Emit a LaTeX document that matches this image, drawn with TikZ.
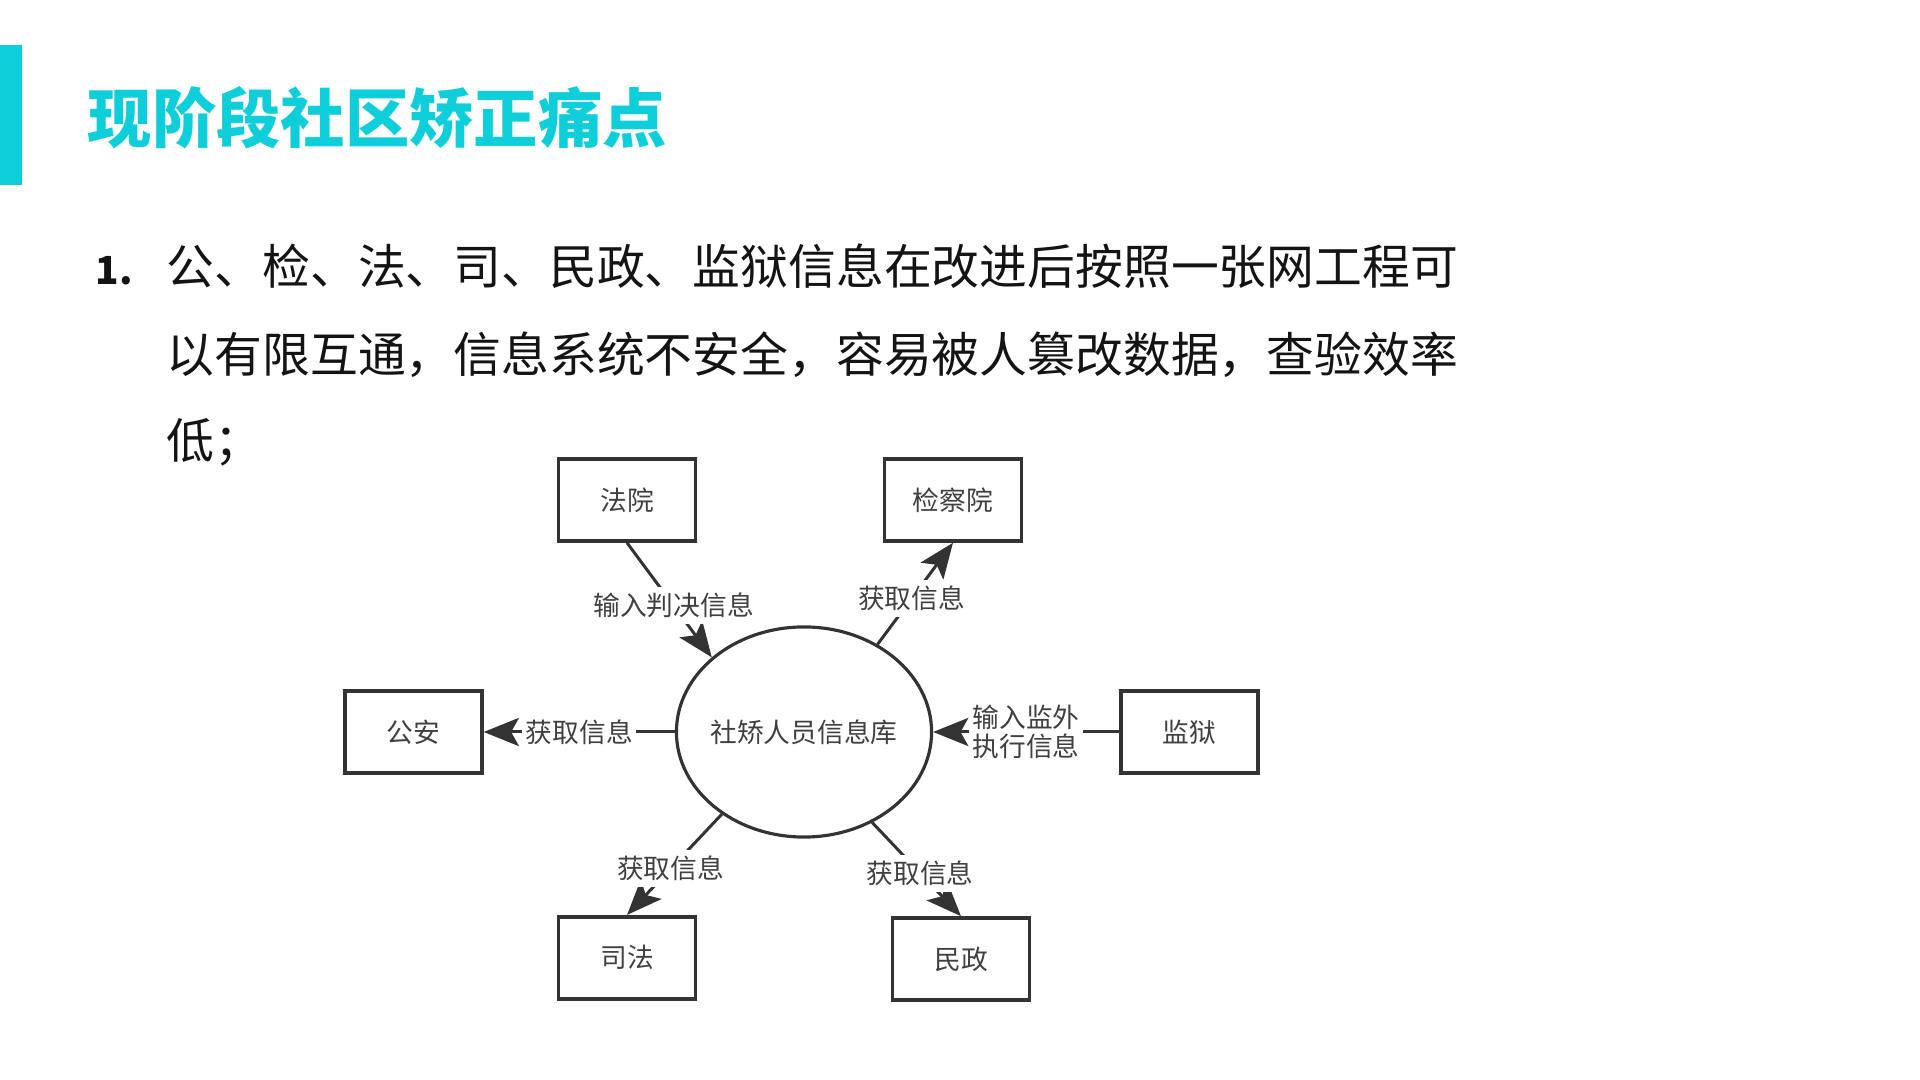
\documentclass[tikz,border=0pt]{standalone}
\usepackage{fontspec}
\setmainfont{Noto Sans CJK SC}
\usepackage{xcolor}
\usetikzlibrary{shapes.geometric, arrows.meta, positioning}
\definecolor{tealhead}{RGB}{14,206,218}
\definecolor{linegray}{RGB}{51,51,51}
\definecolor{textgray}{RGB}{64,64,64}
\definecolor{bodyblack}{RGB}{20,20,20}
\newcommand\titlefont{\fontsize{18.3}{22}\selectfont\bfseries}
\newcommand\bodyfont{\fontsize{13.6}{16}\selectfont}
\newcommand\lblfont{\fontsize{7.6}{8.4}\selectfont}

\begin{document}
\begin{tikzpicture}[
    x=0.01cm, y=-0.01cm,
    box/.style={
      rectangle, draw=linegray, line width=1pt,
      minimum width=1.37cm, minimum height=0.82cm,
      text centered, text=textgray, font=\lblfont
    },
    dbell/.style={
      ellipse, draw=linegray, line width=0.9pt,
      minimum width=2.55cm, minimum height=2.1cm,
      inner xsep=-1.6pt, inner ysep=0pt,
      text=textgray, font=\lblfont
    },
    lbl/.style={
      fill=white, inner xsep=1pt, inner ysep=1.7pt,
      text=textgray, font=\lblfont, align=center
    },
    arr/.style={-{Stealth[length=10pt, width=8pt, inset=2.2pt]}, line width=0.85pt, draw=linegray},
    line/.style={anchor=base west, inner sep=0pt, text=bodyblack, font=\bodyfont}
  ]
  \useasboundingbox (0,0) rectangle (1920,1080);

  % heading
  \fill[tealhead] (0,45) rectangle (22,185);
  \node[anchor=base west, inner sep=0pt, text=tealhead, font=\titlefont] (title) at (87,143) {现阶段社区矫正痛点};

  % text
  \node[line, font=\fontsize{11}{12}\selectfont\bfseries] (num) at (95,285) {1.};
  \node[line] (line1) at (166,285) {公、检、法、司、民政、监狱信息在改进后按照一张网工程可};
  \node[line] (line2) at (166,373) {以有限互通，信息系统不安全，容易被人篡改数据，查验效率};
  \node[line] (line3) at (166,459) {低；};

  % diagram
  \node[dbell] (db) at (804,732) {社矫人员信息库};
  \node[box] (fayuan) at (627,500) {法院};
  \node[box] (jcy) at (953,500) {检察院};
  \node[box, left=1.91cm of db] (gongan) {公安};
  \node[box, right=1.86cm of db] (jianyu) {监狱};
  \node[box, below=3.72cm of fayuan] (sifa) {司法};
  \node[box] (minzheng) at (961,959) {民政};

  \draw[arr] (fayuan.south) -- node[lbl, pos=0.55] {输入判决信息} (db.141);
  \draw[arr] (db.50) -- node[lbl, pos=0.45] {获取信息} (jcy.south);
  \draw[arr] (db.west) -- node[lbl] {获取信息} (gongan.east);
  \draw[arr] (jianyu.west) -- node[lbl] {输入监外\\执行信息} (db.east);
  \draw[arr] (db.225) -- node[lbl, pos=0.54] {获取信息} (sifa.north);
  \draw[arr] (db.307) -- node[lbl, pos=0.54] {获取信息} (minzheng.north);
\end{tikzpicture}
\end{document}
